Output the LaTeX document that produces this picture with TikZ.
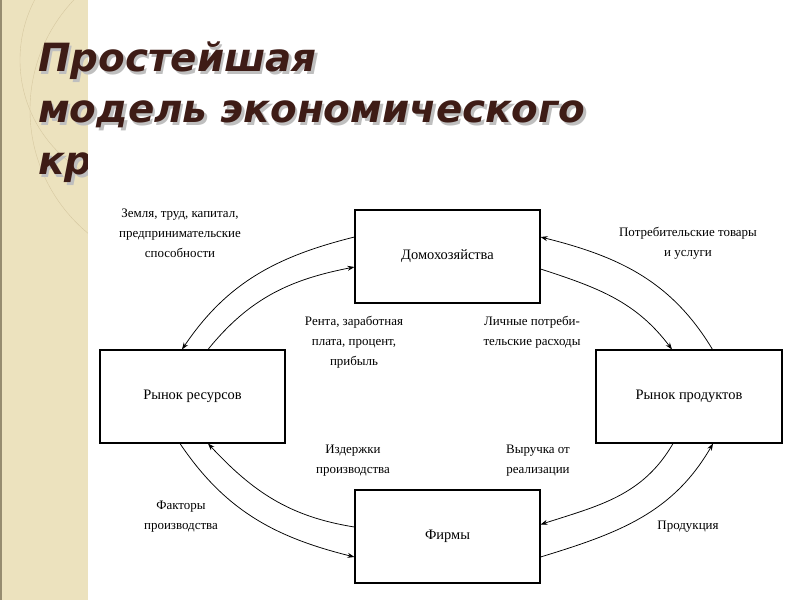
\documentclass[tikz,border=0pt]{standalone}
\usepackage{fontspec}
\setmainfont{Liberation Serif}
\newfontfamily\titlefont{DejaVu Sans}
\usepackage{tikz}
\usetikzlibrary{arrows.meta}
\definecolor{stripbeige}{RGB}{236,226,190}
\definecolor{stripline}{RGB}{214,200,160}
\definecolor{titlebrown}{RGB}{62,28,22}
\newcommand{\shadowtext}[1]{\makebox[0pt][l]{\hspace{2.5bp}\raisebox{-2.5bp}{\color{black!25}#1}}#1}

\begin{document}
\begin{tikzpicture}[x=1bp,y=1bp]
\tikzstyle{every node}+=[inner sep=0pt]
\tikzstyle{ttl}=[anchor=base west, text=titlebrown, font=\titlefont\bfseries\itshape\fontsize{39}{46}\selectfont]
\tikzstyle{box}=[draw, line width=1.1bp, minimum width=185bp, minimum height=93bp, font=\fontsize{14.5}{18}\selectfont]
\tikzstyle{lbl}=[align=center, font=\fontsize{13}{20}\selectfont]
\tikzstyle{flow}=[line width=0.75bp, -{Stealth[length=7bp,width=5bp]}]
\useasboundingbox (0,0) rectangle (800,-600);
\fill [white] (0,0) rectangle (800,-600);
\fill [stripbeige] (0,0) rectangle (88,-600);
\draw [stripline!70!black, line width=2bp] (1,0) -- (1,-600);
\begin{scope}
\clip (0,0) rectangle (88,-600);
\draw [stripline] (190,-110) circle (160);
\draw [stripline] (150,-60) circle (130);
\end{scope}

\node [ttl] (t1) at (38,-72) {\shadowtext{Простейшая}};
\node [ttl] (t2) at (38,-123) {\shadowtext{модель экономического}};
\node [ttl] (t3) at (38,-175) {\shadowtext{кр}};
\fill [white] (88,-140) rectangle (800,-600);

\node [box] (dom) at (447.5,-256.5) {Домохозяйства};
\node [box] (rres) at (192.5,-396.5) {Рынок ресурсов};
\node [box, minimum width=186bp] (rprod) at (689,-396.5) {Рынок продуктов};
\node [box] (firm) at (447.5,-536.5) {Фирмы};

\draw [flow] ([yshift=19.5bp]dom.west) to [out=194,in=56] ([xshift=-10.5bp]rres.north);
\draw [flow] ([xshift=15.5bp]rres.north) to [out=51,in=191] ([yshift=-10.5bp]dom.west);
\draw [flow] ([xshift=23.5bp]rprod.north) to [out=121,in=346] ([yshift=19.5bp]dom.east);
\draw [flow] ([yshift=-12.5bp]dom.east) to [out=-18,in=127] ([xshift=-17bp]rprod.north);
\draw [flow] ([xshift=-12.5bp]rres.south) to [out=-56,in=166] ([yshift=-20.5bp]firm.west);
\draw [flow] ([yshift=9.5bp]firm.west) to [out=171,in=313] ([xshift=15.5bp]rres.south);
\draw [flow] ([xshift=-16bp]rprod.south) to [out=240,in=18] ([yshift=12bp]firm.east);
\draw [flow] ([yshift=-20.5bp]firm.east) to [out=17,in=240] ([xshift=24bp]rprod.south);

\node [lbl] (l1) at (180,-233) {Земля, труд, капитал,\\предпринимательские\\способности};
\node [lbl] (l2) at (354,-342) {Рента, заработная\\плата, процент,\\прибыль};
\node [lbl] (l3) at (688,-243) {Потребительские товары\\и услуги};
\node [lbl] (l4) at (532,-332) {Личные потреби-\\тельские расходы};
\node [lbl] (l5) at (181,-517) {Факторы\\производства};
\node [lbl] (l6) at (353,-461) {Издержки\\производства};
\node [lbl] (l7) at (538,-461) {Выручка от\\реализации};
\node [lbl] (l8) at (688,-527) {Продукция};
\end{tikzpicture}
\end{document}
